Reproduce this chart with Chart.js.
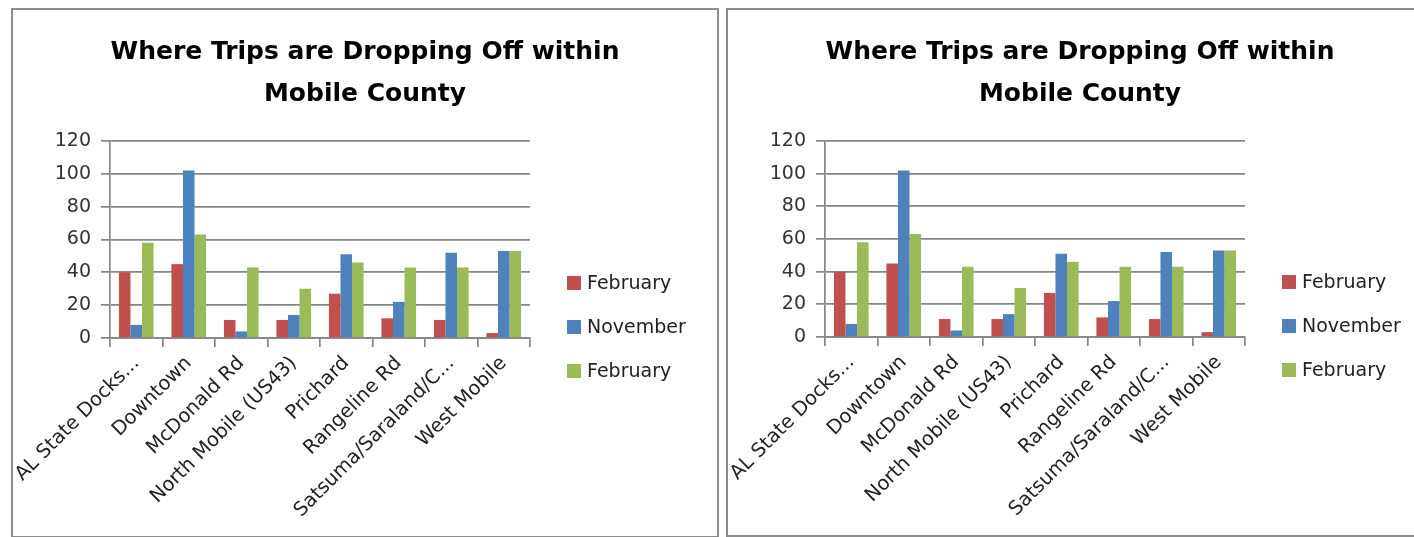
<!DOCTYPE html>
<html>
<head>
<meta charset="utf-8">
<script src="https://cdn.jsdelivr.net/npm/chart.js@4.4.1/dist/chart.umd.min.js"></script>
<style>
  body { margin: 0; background: #fff; width: 1414px; height: 537px; overflow: hidden; position: relative; }
  .panel { position: absolute; top: 8px; width: 708px; height: 530px; border: 2px solid #8c8c8c; box-sizing: border-box; background: #fff; }
  #p1 { left: 11px; }
  #p2 { left: 726px; height: 529px; }
  .panel canvas { position: absolute; left: 0; top: 0; }
</style>
</head>
<body>
<div class="panel" id="p1"><canvas id="chart1" width="704" height="526"></canvas></div>
<div class="panel" id="p2"><canvas id="chart2" width="704" height="525"></canvas></div>
<script>
const titleLines = ['Where Trips are Dropping Off within', 'Mobile County'];
const areas = ['AL State Docks...', 'Downtown', 'McDonald Rd', 'North Mobile (US43)', 'Prichard', 'Rangeline Rd', 'Satsuma/Saraland/C...', 'West Mobile'];
const seriesNames = ['February', 'November', 'February'];
const febFirst = [40, 45, 11, 11, 27, 12, 11, 3];
const november = [8, 102, 4, 14, 51, 22, 52, 53];
const febSecond = [58, 63, 43, 30, 46, 43, 43, 53];
const yTicks = [0, 20, 40, 60, 80, 100, 120];
const colors = ['#C0504D', '#4F81BD', '#9BBB59'];

const FONT = '"DejaVu Sans"';

// legend sits to the right of the plot, lower than chart.js would put it
const sideLegend = {
  id: 'sideLegend',
  afterDraw(chart) {
    const ctx = chart.ctx;
    const a = chart.chartArea;
    ctx.save();
    ctx.font = '19px ' + FONT;
    ctx.textBaseline = 'middle';
    chart.data.datasets.forEach((ds, i) => {
      const y = a.bottom - 55 + i * 44;
      const x = a.right + 37;
      ctx.fillStyle = ds.backgroundColor;
      ctx.fillRect(x, y - 7, 14, 14);
      ctx.fillStyle = '#222';
      ctx.fillText(ds.label, x + 20, y + 1);
    });
    ctx.restore();
  }
};

function makeChart(id) {
  const data = [febFirst, november, febSecond];
  return new Chart(document.getElementById(id), {
    type: 'bar',
    data: {
      labels: areas,
      datasets: seriesNames.map((name, i) => ({
        label: name,
        data: data[i],
        backgroundColor: colors[i],
        borderWidth: 0,
        barPercentage: 1,
        categoryPercentage: 0.66
      }))
    },
    options: {
      responsive: false,
      animation: false,
      layout: { padding: 0 },
      plugins: {
        legend: { display: false },
        tooltip: { enabled: false },
        title: {
          display: true,
          text: titleLines,
          color: '#000',
          font: { family: 'DejaVu Sans', weight: 'bold', size: 25, lineHeight: 1.68 },
          padding: { top: 21, bottom: 26 }
        }
      },
      scales: {
        x: {
          offset: true,
          afterFit(axis) {
            axis.height = 198;
            // long rotated labels should not push the plot to the right
            axis.paddingLeft = 0;
            axis.paddingRight = 0;
          },
          grid: { display: true, drawOnChartArea: false, offset: true, color: '#868686', lineWidth: 1.7, tickLength: 9 },
          border: { color: '#868686', width: 1.7 },
          ticks: { color: '#222', font: { family: 'DejaVu Sans', size: 19.5 }, minRotation: 45, maxRotation: 45, padding: 5, autoSkip: false }
        },
        y: {
          min: 0,
          max: 120,
          afterFit(axis) { axis.width = 97; },
          afterBuildTicks(axis) { axis.ticks = yTicks.map(v => ({ value: v })); },
          grid: { color: '#868686', lineWidth: 1.7, tickLength: 9 },
          border: { color: '#868686', width: 1.7 },
          ticks: { color: '#333', font: { family: 'DejaVu Sans', size: 19 }, padding: 10 }
        },
        // empty right-hand axis that only keeps room for the legend
        legendRoom: {
          position: 'right',
          afterFit(axis) { axis.width = 187; },
          grid: { display: false },
          border: { display: false },
          ticks: { display: false }
        }
      }
    },
    plugins: [sideLegend]
  });
}

makeChart('chart1');
makeChart('chart2');
</script>
</body>
</html>
